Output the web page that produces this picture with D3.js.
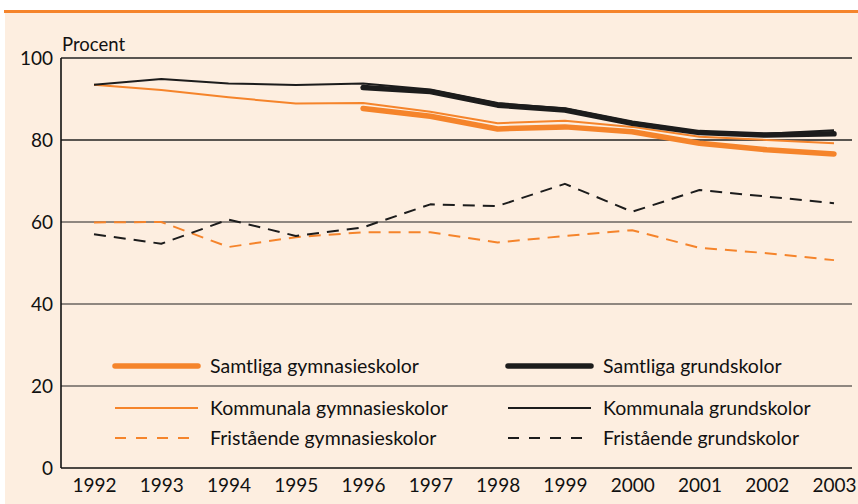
<!DOCTYPE html>
<html>
<head>
<meta charset="utf-8">
<script src="https://cdn.jsdelivr.net/npm/d3@7"></script>
<style>
  html, body { margin: 0; padding: 0; background: #fff; }
  svg { display: block; font-family: Lato, "DejaVu Sans", sans-serif; }
</style>
</head>
<body>
<div id="chart"></div>
<script>
// values (procent)
const years = [1992, 1993, 1994, 1995, 1996, 1997, 1998, 1999, 2000, 2001, 2002, 2003];
const samtligaGymnasie = [null, null, null, null, 87.7, 85.8, 82.7, 83.2, 82.0, 79.2, 77.6, 76.6];
const kommunalaGymnasie = [93.5, 92.2, 90.4, 88.9, 89.0, 86.9, 84.1, 84.7, 83.2, 80.8, 80.0, 79.2];
const fristaendeGymnasie = [59.9, 60.0, 53.9, 56.3, 57.5, 57.5, 55.0, 56.6, 58.0, 53.7, 52.4, 50.7];
const samtligaGrund = [null, null, null, null, 92.8, 91.8, 88.5, 87.3, 84.1, 81.8, 81.2, 81.5];
const kommunalaGrund = [93.5, 94.9, 93.8, 93.4, 93.8, 92.3, 89.0, 87.7, 84.4, 82.0, 81.5, 82.4];
const fristaendeGrund = [57.0, 54.7, 60.6, 56.6, 58.7, 64.3, 63.9, 69.3, 62.5, 67.8, 66.2, 64.6];
const yTicks = [0, 20, 40, 60, 80, 100];

const orange = '#f5842b';
const black = '#1c1c1c';

// legend order: left column, right column
const series = [
  { name: 'Samtliga gymnasieskolor', values: samtligaGymnasie, color: orange, width: 5.5, dash: null, col: 0, row: 0 },
  { name: 'Kommunala gymnasieskolor', values: kommunalaGymnasie, color: orange, width: 2, dash: null, col: 0, row: 1 },
  { name: 'Fristående gymnasieskolor', values: fristaendeGymnasie, color: orange, width: 2, dash: '12,8', col: 0, row: 2 },
  { name: 'Samtliga grundskolor', values: samtligaGrund, color: black, width: 5.5, dash: null, col: 1, row: 0 },
  { name: 'Kommunala grundskolor', values: kommunalaGrund, color: black, width: 2, dash: null, col: 1, row: 1 },
  { name: 'Fristående grundskolor', values: fristaendeGrund, color: black, width: 2, dash: '12,8', col: 1, row: 2 }
];

const width = 858;
const height = 504;
const plotLeft = 61, plotRight = 852, plotTop = 58, plotBottom = 468;

const svg = d3.select('#chart')
  .append('svg')
  .attr('width', width)
  .attr('height', height);

// panel background and orange top rule
svg.append('rect')
  .attr('x', 5).attr('y', 12)
  .attr('width', width - 5).attr('height', height - 12)
  .attr('fill', '#fdeee0');
svg.append('rect')
  .attr('x', 4).attr('y', 10)
  .attr('width', width - 4).attr('height', 3)
  .attr('fill', orange);

const x = d3.scalePoint()
  .domain(years)
  .range([94, 834]);

const y = d3.scaleLinear()
  .domain([0, 100])
  .range([plotBottom, plotTop]);

// horizontal grid
svg.append('g')
  .selectAll('line')
  .data(yTicks.filter(d => d > 0))
  .enter().append('line')
  .attr('x1', plotLeft).attr('x2', plotRight)
  .attr('y1', d => y(d)).attr('y2', d => y(d))
  .attr('stroke', d => d >= 80 ? '#222' : '#6a6461')
  .attr('stroke-width', 1.3);

// y axis
const yAxis = svg.append('g')
  .attr('transform', `translate(${plotLeft},0)`)
  .call(d3.axisLeft(y).tickValues(yTicks).tickSize(0).tickPadding(8));
yAxis.select('.domain').remove();
yAxis.selectAll('text')
  .attr('font-size', 19)
  .attr('font-family', 'Lato, sans-serif')
  .attr('fill', '#111');

svg.append('line')
  .attr('x1', plotLeft).attr('x2', plotLeft)
  .attr('y1', plotTop).attr('y2', plotBottom)
  .attr('stroke', '#111').attr('stroke-width', 1.6);

// x axis
const xAxis = svg.append('g')
  .attr('transform', `translate(0,${plotBottom})`)
  .call(d3.axisBottom(x).tickSize(0).tickPadding(11));
xAxis.select('.domain').remove();
xAxis.selectAll('text')
  .attr('font-size', 19)
  .attr('font-family', 'Lato, sans-serif')
  .attr('fill', '#111');

svg.append('line')
  .attr('x1', plotLeft).attr('x2', plotRight)
  .attr('y1', plotBottom).attr('y2', plotBottom)
  .attr('stroke', '#111').attr('stroke-width', 1.6);

svg.append('text')
  .attr('x', 62).attr('y', 51)
  .attr('font-size', 18.5)
  .attr('fill', '#111')
  .text('Procent');

// lines
const line = d3.line()
  .defined(d => d.v != null)
  .x(d => x(d.year))
  .y(d => y(d.v));

const drawOrder = [2, 5, 1, 0, 4, 3];
svg.append('g')
  .selectAll('path')
  .data(drawOrder.map(i => series[i]))
  .enter().append('path')
  .attr('d', s => line(years.map((yr, i) => ({ year: yr, v: s.values[i] }))))
  .attr('fill', 'none')
  .attr('stroke', s => s.color)
  .attr('stroke-width', s => s.width)
  .attr('stroke-dasharray', s => s.dash)
  .attr('stroke-linejoin', 'round')
  .attr('stroke-linecap', s => s.width > 3 ? 'round' : 'butt');

// legend
const colX = [115, 508];
const rowY = [366, 408, 438];

const legend = svg.append('g')
  .selectAll('g')
  .data(series)
  .enter().append('g')
  .attr('transform', s => `translate(${colX[s.col]},${rowY[s.row]})`);

legend.append('line')
  .attr('x1', 0).attr('x2', s => s.dash ? 80 : 83)
  .attr('y1', 0).attr('y2', 0)
  .attr('stroke', s => s.color)
  .attr('stroke-width', s => s.width)
  .attr('stroke-dasharray', s => s.dash ? '11,10' : null)
  .attr('stroke-linecap', s => s.width > 3 ? 'round' : 'butt');

legend.append('text')
  .attr('x', 95)
  .attr('dy', '0.35em')
  .attr('font-size', 19.5)
  .attr('fill', '#111')
  .text(s => s.name);
</script>
</body>
</html>
